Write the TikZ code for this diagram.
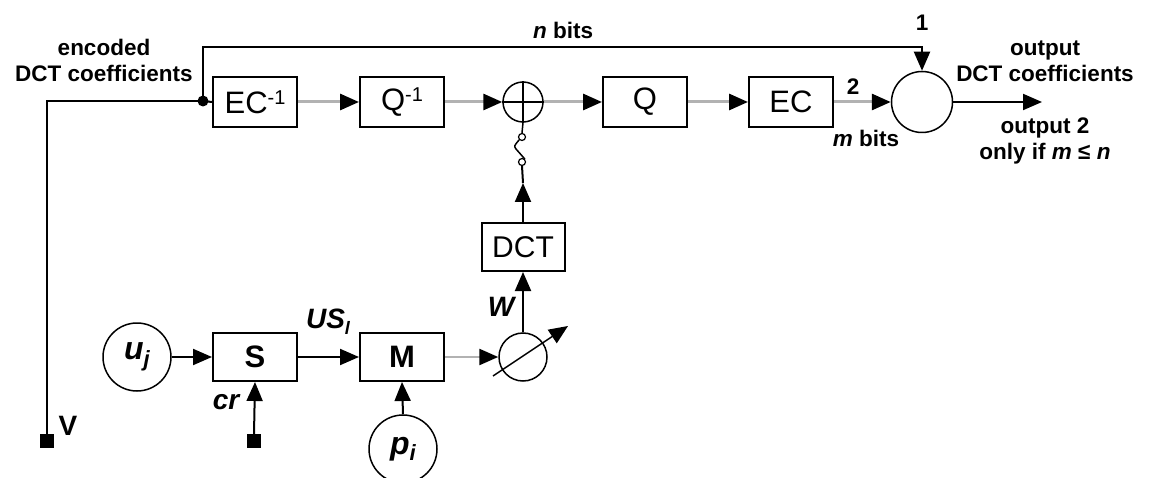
\documentclass[tikz,border=0pt]{standalone}
\usepackage{fontspec}
\setmainfont{Liberation Sans}
\usetikzlibrary{arrows.meta}
\begin{document}
\begin{tikzpicture}[x=1pt,y=-1pt,
  blk/.style={draw=black,line width=2pt,minimum width=84pt,minimum height=50pt,inner sep=0pt,font=\fontsize{31}{31}\selectfont},
  sblk/.style={blk,minimum height=48pt,font=\fontsize{31}{31}\selectfont\bfseries},
  src/.style={draw=black,circle,line width=1.5pt,minimum size=68pt,inner sep=0pt,font=\fontsize{32}{32}\selectfont\bfseries\itshape},
  wire/.style={draw=black,line width=2pt},
  gwire/.style={draw=gray!60,line width=3pt},
  tipa/.style={-{Triangle[length=19pt,width=16pt,color=black]}},
  lab/.style={font=\fontsize{22.5}{26}\selectfont\bfseries,align=center,inner sep=0pt},
  ilab/.style={font=\fontsize{28}{28}\selectfont\bfseries\itshape,inner sep=0pt},
  sq/.style={fill=black,minimum size=14pt,inner sep=0pt}
]
\useasboundingbox (0,0) rectangle (1155,478);

% top row
\node[circle,fill=black,minimum size=11pt,inner sep=0pt] (dot) at (203,101) {};
\node[blk] (ecinv) at (255,102) {EC\raisebox{9pt}{\fontsize{20}{20}\selectfont -1}};
\node[blk] (qinv) at (402,102) {Q\raisebox{9pt}{\fontsize{20}{20}\selectfont -1}};
\node[draw=black,circle,line width=1.5pt,minimum size=40pt,inner sep=0pt] (add) at (523,102) {};
\draw[line width=1.5pt] (add.north) -- (add.south) (add.west) -- (add.east);
\node[blk] (q) at (645,102) {Q};
\node[blk] (ec) at (791,102) {EC};
\node[draw=black,circle,line width=1.5pt,minimum size=61pt,inner sep=0pt] (out) at (922,102) {};
\coordinate (outend) at (1042,102);

\coordinate (tl) at (203,47);
\coordinate (tr) at (922,47);
\coordinate (bl) at (47,101);
\node[sq] (vsq) at (47,441) {};

\draw[wire,tipa] (dot.center) -- (tl) -- (tr) -- (out.north);
\draw[wire] (dot.center) -- (bl) -- (vsq.north);
\draw[wire] (dot.center) -- (ecinv.west);
\draw[gwire,tipa] (ecinv.east) -- (qinv.west);
\draw[gwire,tipa] (qinv.east) -- (add.west);
\draw[gwire,tipa] (add.east) -- (q.west);
\draw[gwire,tipa] (q.east) -- (ec.west);
\draw[gwire,tipa] (ec.east) -- (out.west);
\draw[wire,tipa] (out.east) -- (outend);

% switch
\node[draw=black,line width=1.2pt,minimum size=7pt,inner sep=0pt,circle] (swa) at (522,137) {};
\node[draw=black,line width=1.2pt,minimum size=7pt,inner sep=0pt,circle] (swb) at (522,162) {};
\draw[wire,line width=1.5pt] (add.south) -- (swa.north);
\draw[black,line width=1.5pt] (swa.south west) .. controls (514,146) .. (516,149) -- (swb.north east);

% DCT
\node[blk,minimum width=83pt,minimum height=48pt,font=\fontsize{30}{30}\selectfont] (dct) at (523,247) {DCT};
\coordinate (dctarr) at (523,183);
\draw[wire,tipa] (dct.north) -- (dctarr);
\draw[wire] (dctarr) -- (swb.south);

% bottom row
\node[src] (uj) at (137,357) {u\raisebox{-7pt}{\fontsize{22}{22}\selectfont j}};
\node[sblk] (s) at (255,357) {S};
\node[sblk] (m) at (402,357) {M};
\node[src] (pi) at (403,449) {p\raisebox{-6pt}{\fontsize{22}{22}\selectfont i}};
\node[draw=black,circle,line width=1.5pt,minimum size=48pt,inner sep=0pt] (res) at (523,357) {};
\coordinate (resa) at (493,376);
\coordinate (resb) at (568,326);
\draw[line width=1.5pt,tipa] (resa) -- (resb);
\node[sq] (crsq) at (254,441) {};

\draw[wire,tipa] (uj.east) -- (s.west);
\draw[wire,tipa] (s.east) -- (m.west);
\draw[gwire,line width=2.5pt,tipa] (m.east) -- (res.west);
\draw[wire,tipa] (res.north) -- (dct.south);
\draw[wire,tipa] (crsq.north) -- (s.south);
\draw[wire,tipa] (pi.north) -- (m.south);

% labels
\node[lab] (lenc) at (104,60) {encoded\\DCT coefficients};
\node[lab] (lnb) at (563,30) {\textit{n} bits};
\node[lab] (l1) at (922,23) {1};
\node[lab] (l2) at (853,87) {2};
\node[lab] (lmb) at (866,138) {\textit{m} bits};
\node[lab] (lout) at (1045,61) {output\\DCT coefficients};
\node[lab] (lout2) at (1045,141) {output 2\\only if \textit{m} ≤ \textit{n}};
\node[lab,font=\fontsize{28}{28}\selectfont\bfseries] (lv) at (68,426) {V};
\node[ilab] (lus) at (328,322) {US\raisebox{-6pt}{\fontsize{18}{18}\selectfont l}};
\node[ilab] (lcr) at (226,402) {cr};
\node[ilab] (lw) at (501,307) {W};
\end{tikzpicture}
\end{document}
